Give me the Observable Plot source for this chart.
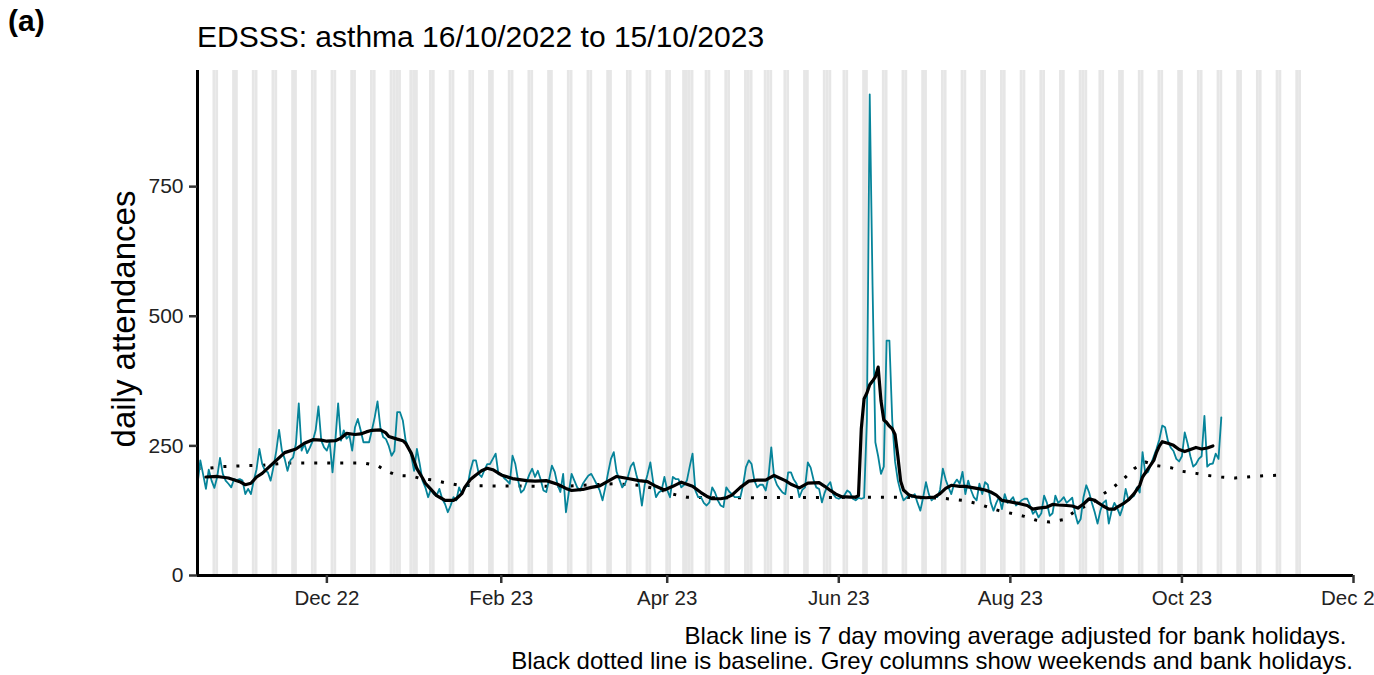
<!DOCTYPE html>
<html>
<head>
<meta charset="utf-8">
<script src="https://cdn.jsdelivr.net/npm/d3@7"></script>
<script src="https://cdn.jsdelivr.net/npm/@observablehq/plot@0.6"></script>
<style>
  body { margin: 0; background: #fff; font-family: "Liberation Sans", Arial, sans-serif; }
  #wrap { position: relative; width: 1374px; height: 675px; overflow: hidden; background: #fff; }
  #wrap svg { position: absolute; left: 0; top: 0; }
  .t { position: absolute; white-space: pre; line-height: 1; color: #000; z-index: 2; }
</style>
</head>
<body>
<div id="wrap">
  <div class="t" style="left:8px; top:6px; font-size:30px; font-weight:bold;">(a)</div>
  <div class="t" style="left:197px; top:22px; font-size:30px;">EDSSS: asthma 16/10/2022 to 15/10/2023</div>
  <div class="t" style="left:123px; top:319px; font-size:33px; transform: translate(-50%, -50%) rotate(-90deg);">daily attendances</div>
  <div class="t" style="right:21px; top:623px; font-size:24px; line-height:25px; text-align:right;">Black line is 7 day moving average adjusted for bank holidays. 
Black dotted line is baseline. Grey columns show weekends and bank holidays.</div>
</div>
<script>
// ---- data ----
const startDate = "2022-10-16";
// daily attendances, one row per week (Sun..Sat), 16/10/2022 .. 15/10/2023
const attendances = [
  175,222,195,167,204,183,169,
  190,227,196,183,177,170,186,
  184,186,183,157,167,157,183,
  205,244,215,202,199,183,209,
  240,281,241,225,202,222,228,
  254,332,241,254,236,247,260,
  280,326,260,247,241,257,199,
  260,332,260,280,264,270,241,
  286,302,280,257,257,257,280,
  305,336,286,267,263,250,231,
  240,315,315,299,260,247,231,
  202,244,215,183,170,151,167,
  157,154,167,148,138,122,135,
  151,145,170,157,170,173,202,
  222,222,196,190,203,215,215,
  225,235,195,196,188,183,177,
  231,215,183,160,165,180,195,
  206,190,202,185,164,161,185,
  212,200,175,161,196,122,160,
  196,183,170,164,177,185,193,
  196,186,175,164,145,170,199,
  225,238,200,185,170,177,190,
  210,218,195,175,135,175,195,
  218,180,151,160,164,190,165,
  151,190,186,186,170,175,183,
  210,235,164,151,151,140,135,
  141,170,160,145,135,132,170,
  162,157,151,151,151,175,209,
  222,215,183,170,175,175,164,
  190,247,190,175,167,160,157,
  199,199,185,177,151,165,170,
  218,208,185,170,167,141,160,
  173,180,157,150,148,151,155,
  164,160,148,145,150,148,150,
  300,928,560,257,230,196,210,
  453,453,300,220,183,161,145,
  150,157,151,157,140,125,151,
  180,157,145,151,151,165,206,
  185,170,157,177,185,177,200,
  157,183,165,151,145,177,157,
  180,175,141,125,140,151,128,
  157,140,145,151,135,140,145,
  148,148,135,119,125,112,120,
  154,140,115,120,154,140,145,
  151,140,145,150,120,100,109,
  151,174,160,140,122,100,125,
  140,145,100,125,140,130,116,
  132,167,145,150,154,170,160,
  238,196,200,215,230,245,263,
  289,286,260,247,240,225,220,
  230,276,255,230,210,215,225,
  230,308,210,215,216,235,225,
  305
];
// 7 day moving average (day offset from start, value)
const maDay = [3,7,11,15,17,19,21,23,25,28,31,35,38,41,44,46,49,51,53,56,58,60,62,65,67,68,71,73,74,76,78,80,81,83,85,87,88,91,92,94,95,97,99,101,103,105,108,112,117,120,124,128,131,133,137,140,143,146,149,153,157,160,163,166,169,172,176,179,181,183,186,188,190,193,196,199,202,205,209,211,214,217,221,223,225,227,229,232,234,235,236,237,238,239,240,241,242,243,244,245,246,247,248,249,250,251,253,256,259,262,264,266,268,271,273,275,278,280,282,284,286,289,292,295,297,299,302,304,306,309,311,313,315,317,319,320,322,324,326,327,329,331,333,335,336,338,340,341,342,343,345,347,349,351,353,355,357,359,361];
const maValue = [190,191,188,181,175,178,190,197,207,222,237,244,255,262,261,259,260,265,274,272,273,277,280,281,275,268,263,260,255,236,206,188,178,166,154,148,145,145,148,158,170,185,194,202,207,204,194,187,183,182,183,176,168,164,166,170,173,182,191,187,183,181,172,165,172,180,172,160,153,148,148,150,155,170,182,184,184,193,183,176,169,178,179,172,164,157,152,151,151,154,283,341,352,368,375,383,402,337,300,295,288,283,272,230,182,165,155,151,150,151,158,168,174,172,172,170,167,165,161,155,145,142,139,135,128,130,132,137,136,135,134,130,138,148,145,141,134,128,128,132,138,146,158,174,190,206,222,238,250,258,255,251,243,239,243,247,244,246,250];
// baseline (day offset from start, value)
const baseDay = [0,4,9,18,22,31,59,64,67,71,76,80,84,88,93,100,130,140,148,157,164,169,174,185,250,265,272,277,281,285,290,294,298,303,308,311,315,318,322,326,330,333,337,341,346,350,355,359,364,369,373,378,382,387];
const baseValue = [206,207,210,212,212,217,217,212,202,193,192,186,184,179,174,173,172,175,177,174,166,157,151,150,151,149,145,139,132,125,119,114,107,103,108,120,132,139,157,172,190,206,219,212,208,201,197,193,190,188,190,192,193,194];
const bankHolidays = ["2022-12-26","2022-12-27","2023-01-02","2023-04-07","2023-04-10","2023-05-01","2023-05-08","2023-05-29","2023-08-28"];
const shadeRange = ["2022-10-15","2023-11-12"];
const xDomain = ["2022-10-16","2023-12-01"];
const xTicks = ["2022-12-01","2023-02-01","2023-04-01","2023-06-01","2023-08-01","2023-10-01","2023-12-01"];
const yTicks = [0,250,500,750];
const yMax = 974;

// ---- build ----
const DAY = 864e5;
const utc = s => new Date(s + "T00:00:00Z");
const t0 = utc(startDate);
const at = d => new Date(t0.getTime() + d * DAY);
const daily = attendances.map((v, i) => ({date: at(i), value: v}));
const ma = maDay.map((d, i) => ({date: at(d), value: maValue[i]}));
const base = baseDay.map((d, i) => ({date: at(d), value: baseValue[i]}));
const fmt = d3.utcFormat("%Y-%m-%d");
const shade = d3.utcDays(utc(shadeRange[0]), new Date(utc(shadeRange[1]).getTime() + DAY))
  .filter(d => d.getUTCDay() === 0 || d.getUTCDay() === 6 || bankHolidays.includes(fmt(d)));

const chart = Plot.plot({
  width: 1374,
  height: 675,
  marginTop: 70,
  marginBottom: 100,
  marginLeft: 197,
  marginRight: 21,
  style: {fontFamily: "'Liberation Sans', Arial, sans-serif", background: "transparent", color: "#333"},
  x: {type: "utc", domain: xDomain.map(utc)},
  y: {domain: [0, yMax]},
  marks: [
    Plot.rect(shade, {x1: d => new Date(d.getTime() - DAY / 2), x2: d => new Date(d.getTime() + DAY / 2), y1: 0, y2: yMax, fill: "#e6e6e6", clip: true}),
    Plot.line(base, {x: "date", y: "value", stroke: "black", strokeWidth: 3, strokeDasharray: "3,10", strokeLinecap: "butt"}),
    Plot.line(daily, {x: "date", y: "value", stroke: "#06849a", strokeWidth: 1.8}),
    Plot.line(ma, {x: "date", y: "value", stroke: "black", strokeWidth: 3.2, strokeLinejoin: "round"}),
    Plot.ruleX([utc(xDomain[0])], {stroke: "black", strokeWidth: 3}),
    Plot.ruleY([0], {stroke: "black", strokeWidth: 3}),
    Plot.axisX({ticks: xTicks.map(utc), tickFormat: d3.utcFormat("%b %y"), tickSize: 8, tickPadding: 7, fontSize: 20.5, strokeWidth: 2.5, stroke: "#333", fill: "#222", label: null}),
    Plot.axisY({ticks: yTicks, tickSize: 8, tickPadding: 6, fontSize: 21, strokeWidth: 2.5, stroke: "#333", fill: "#222", label: null})
  ]
});
document.getElementById("wrap").prepend(chart);
</script>
</body>
</html>
